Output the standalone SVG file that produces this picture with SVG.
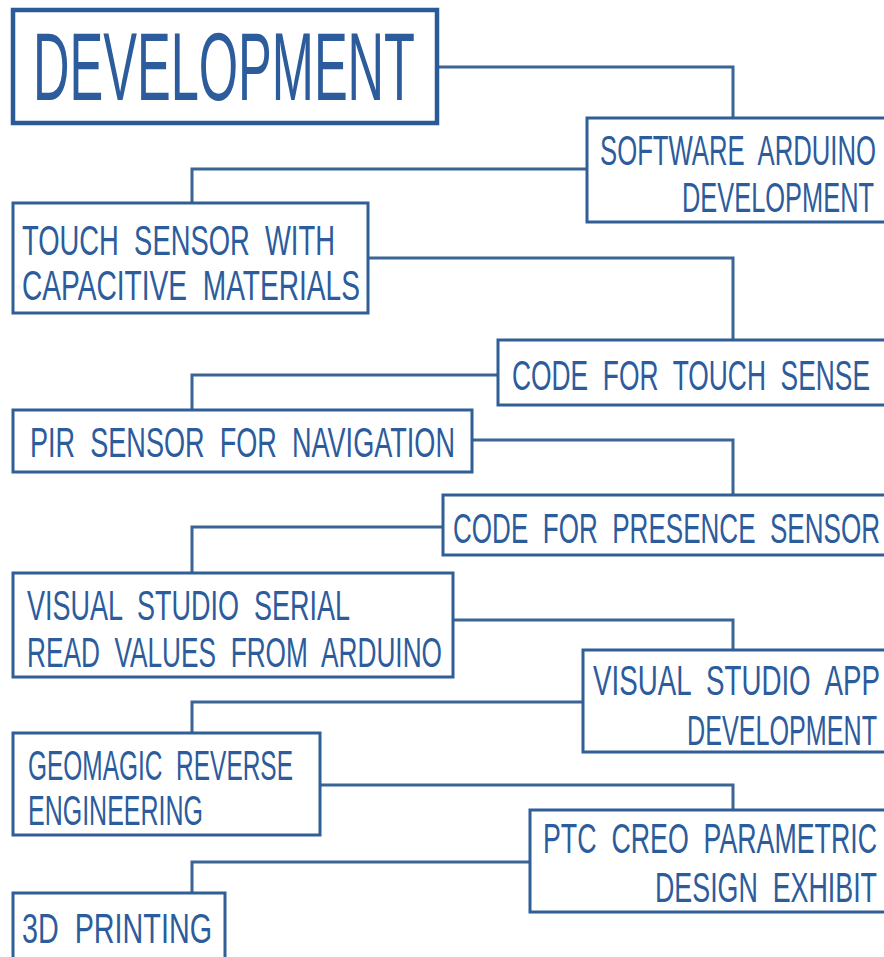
<svg xmlns="http://www.w3.org/2000/svg" width="884" height="957" viewBox="0 0 884 957">
<style>
.box{fill:#fff;stroke:#2f5f96;stroke-width:3}
.t{font-family:"Liberation Sans Narrow","Liberation Sans",Arial,sans-serif;font-size:43px;fill:#2c5c9c;white-space:pre}
.c{fill:none;stroke:#3a6594;stroke-width:3}
</style>
<rect width="884" height="957" fill="#fff"/>
<g id="connectors">
<path class="c" d="M437,67 H733 V118"/>
<path class="c" d="M587,169 H192 V203"/>
<path class="c" d="M368,258 H733 V340"/>
<path class="c" d="M498,375 H192 V410"/>
<path class="c" d="M472,440 H733 V495"/>
<path class="c" d="M443,527 H192 V573"/>
<path class="c" d="M453,620 H733 V650"/>
<path class="c" d="M583,702 H192 V733"/>
<path class="c" d="M320,785 H733 V810"/>
<path class="c" d="M530,862 H192 V893"/>
</g>
<g id="development">
<rect x="13" y="10" width="424" height="113" fill="#fff" stroke="#2a5a98" stroke-width="4.5"/>
<text class="t" x="33" y="100" style="font-size:97px" textLength="382" lengthAdjust="spacingAndGlyphs">DEVELOPMENT</text>
</g>
<g id="software-arduino">
<rect class="box" x="587" y="118" width="305" height="104"/>
<text class="t" x="600" y="165" textLength="276" lengthAdjust="spacingAndGlyphs" xml:space="preserve">SOFTWARE  ARDUINO</text>
<text class="t" x="682" y="212" textLength="192" lengthAdjust="spacingAndGlyphs">DEVELOPMENT</text>
</g>
<g id="touch-sensor">
<rect class="box" x="13" y="203" width="355" height="110"/>
<text class="t" x="22" y="255" textLength="313" lengthAdjust="spacingAndGlyphs" xml:space="preserve">TOUCH  SENSOR  WITH</text>
<text class="t" x="22" y="300" textLength="338" lengthAdjust="spacingAndGlyphs" xml:space="preserve">CAPACITIVE  MATERIALS</text>
</g>
<g id="code-touch">
<rect class="box" x="498" y="340" width="394" height="65"/>
<text class="t" x="512" y="390" textLength="358" lengthAdjust="spacingAndGlyphs" xml:space="preserve">CODE  FOR  TOUCH  SENSE</text>
</g>
<g id="pir-sensor">
<rect class="box" x="13" y="410" width="459" height="62"/>
<text class="t" x="30" y="457" textLength="425" lengthAdjust="spacingAndGlyphs" xml:space="preserve">PIR  SENSOR  FOR  NAVIGATION</text>
</g>
<g id="code-presence">
<rect class="box" x="443" y="495" width="449" height="60"/>
<text class="t" x="453" y="543" textLength="427" lengthAdjust="spacingAndGlyphs" xml:space="preserve">CODE  FOR  PRESENCE  SENSOR</text>
</g>
<g id="vs-serial">
<rect class="box" x="13" y="573" width="440" height="104"/>
<text class="t" x="27" y="620" textLength="323" lengthAdjust="spacingAndGlyphs" xml:space="preserve">VISUAL  STUDIO  SERIAL</text>
<text class="t" x="27" y="667" textLength="415" lengthAdjust="spacingAndGlyphs" xml:space="preserve">READ  VALUES  FROM  ARDUINO</text>
</g>
<g id="vs-app">
<rect class="box" x="583" y="650" width="309" height="102"/>
<text class="t" x="593" y="695" textLength="287" lengthAdjust="spacingAndGlyphs" xml:space="preserve">VISUAL  STUDIO  APP</text>
<text class="t" x="687" y="745" textLength="190" lengthAdjust="spacingAndGlyphs">DEVELOPMENT</text>
</g>
<g id="geomagic">
<rect class="box" x="13" y="733" width="307" height="102"/>
<text class="t" x="28" y="780" textLength="265" lengthAdjust="spacingAndGlyphs" xml:space="preserve">GEOMAGIC  REVERSE</text>
<text class="t" x="28" y="825" textLength="175" lengthAdjust="spacingAndGlyphs">ENGINEERING</text>
</g>
<g id="ptc-creo">
<rect class="box" x="530" y="810" width="362" height="102"/>
<text class="t" x="543" y="853" textLength="334" lengthAdjust="spacingAndGlyphs" xml:space="preserve">PTC  CREO  PARAMETRIC</text>
<text class="t" x="655" y="902" textLength="222" lengthAdjust="spacingAndGlyphs" xml:space="preserve">DESIGN  EXHIBIT</text>
</g>
<g id="printing-3d">
<rect class="box" x="13" y="893" width="212" height="80"/>
<text class="t" x="22" y="943" textLength="190" lengthAdjust="spacingAndGlyphs" xml:space="preserve">3D  PRINTING</text>
</g>
</svg>
